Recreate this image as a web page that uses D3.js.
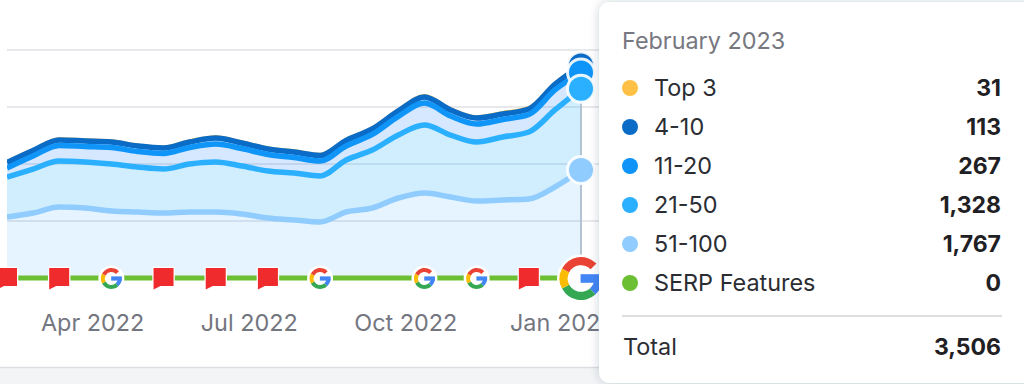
<!DOCTYPE html>
<html>
<head>
<meta charset="utf-8">
<script src="https://cdn.jsdelivr.net/npm/d3@7/dist/d3.min.js"></script>
<style>
html,body{margin:0;padding:0;background:#fff;overflow:hidden}
svg{display:block}
text{font-family:Inter,"Noto Sans",sans-serif}
</style>
</head>
<body>
<svg id="c" width="1024" height="384"></svg>
<script>
const dates = ["2022-03-01","2022-03-16","2022-04-01","2022-04-16","2022-05-01","2022-05-16","2022-06-01","2022-06-16","2022-07-01","2022-07-16","2022-08-01","2022-08-16","2022-09-01","2022-09-16","2022-10-01","2022-10-16","2022-11-01","2022-11-16","2022-12-01","2022-12-16","2023-01-01","2023-01-16","2023-02-01"];
const top3    = [22,22,24,24,24,22,22,26,26,24,24,24,24,24,26,26,28,26,26,30,30,30,31];
const pos4to10 = [90,90,90,90,90,90,90,90,98,90,90,90,90,90,90,90,98,98,98,90,90,90,113];
const pos11to20 = [147,213,254,254,270,254,254,270,294,286,270,254,245,229,254,303,360,311,294,286,286,327,267];
const pos21to50 = [654,720,753,753,769,736,720,785,818,785,769,769,753,851,949,1031,1112,1014,965,1031,1096,1260,1328];
const pos51to100 = [998,1063,1162,1145,1096,1080,1063,1080,1080,1047,982,949,916,1080,1145,1309,1391,1325,1260,1276,1292,1489,1767];
const serp = [0,0,0,0,0,0,0,0,0,0,0,0,0,0,0,0,0,0,0,0,0,0,0];
const gridValues = [0,932,1865,2797,3730];
const tickDates = ["2022-04-01","2022-07-01","2022-10-01","2023-01-01"];
const tickLabels = ["Apr 2022","Jul 2022","Oct 2022","Jan 2023"];
const eventDates = ["2022-03-01","2022-04-01","2022-05-01","2022-06-01","2022-07-01","2022-08-01","2022-09-01","2022-11-01","2022-12-01","2023-01-01","2023-02-01"];
const eventTypes = ["flag","flag","g","flag","flag","flag","g","g","g","flag","bigg"];
const seriesNames = ["Top 3","4-10","11-20","21-50","51-100","SERP Features"];
const seriesColors = ["#ffc145","#0a6cc6","#0f94f8","#2bb0ff","#91ccff","#6cbf33"];
const bandFills = ["rgba(255,193,69,0.12)","rgba(20,130,255,0.18)","rgba(20,130,255,0.18)","rgba(40,175,255,0.21)","rgba(30,155,255,0.11)"];
const tooltipTitle = "February 2023";
const totalLabel = "Total";

const svg = d3.select("#c");
const x = d3.scalePoint().domain(dates).range([7,581]);
const y = d3.scaleLinear().domain([0,3730]).range([278,50]);
const defs = svg.append("defs");
defs.append("clipPath").attr("id","plot").append("rect").attr("x",7).attr("y",0).attr("width",600).attr("height",278);
const f = defs.append("filter").attr("id","sh").attr("x","-10%").attr("y","-10%").attr("width","120%").attr("height","120%");
f.append("feDropShadow").attr("dx",0).attr("dy",0).attr("stdDeviation",5).attr("flood-color","#26334d").attr("flood-opacity",0.22);

svg.append("rect").attr("x",0).attr("y",367).attr("width",1024).attr("height",17).attr("fill","#f3f4f6");
svg.append("line").attr("x1",0).attr("x2",1024).attr("y1",367.5).attr("y2",367.5).attr("stroke","#dcdde1").attr("stroke-width",1.5);

svg.append("g").selectAll("line").data(gridValues.slice(1)).join("line")
  .attr("x1",7).attr("x2",600).attr("y1",d=>y(d)).attr("y2",d=>y(d))
  .attr("stroke","#e7e8ec").attr("stroke-width",2);

const stackOrder = [pos51to100,pos21to50,pos11to20,pos4to10,top3];
const table = dates.map((d,i)=>({date:d,s0:stackOrder[0][i],s1:stackOrder[1][i],s2:stackOrder[2][i],s3:stackOrder[3][i],s4:stackOrder[4][i]}));
const stacked = d3.stack().keys(["s0","s1","s2","s3","s4"])(table);
const curve = d3.curveMonotoneX;
const area = d3.area().x(d=>x(d.data.date)).y0(d=>y(d[0])).y1(d=>y(d[1])).curve(curve);
const line = d3.line().x(d=>x(d.data.date)).y(d=>y(d[1])).curve(curve);

const plot = svg.append("g").attr("clip-path","url(#plot)");
const bandColor = [bandFills[4],bandFills[3],bandFills[2],bandFills[1],bandFills[0]];
plot.selectAll(".band").data(stacked).join("path").attr("class","band")
  .attr("d",area).attr("fill",(d,i)=>bandColor[i]);

svg.append("line").attr("x1",x(dates[22])).attr("x2",x(dates[22])).attr("y1",y(3095)).attr("y2",272)
  .attr("stroke","#b4c3d2").attr("stroke-width",2);

const lineColor = [seriesColors[4],seriesColors[3],seriesColors[2],seriesColors[1],seriesColors[0]];
const lineWidth = [5.5,5.5,5.5,5.5,2.5];
[4,3,2,1,0].forEach(i=>{
  plot.append("path").datum(stacked[i]).attr("d",line).attr("fill","none")
    .attr("stroke",lineColor[i]).attr("stroke-width",lineWidth[i]);
});

[3,2,1,0].forEach(i=>{
  const p = stacked[i][22];
  svg.append("circle").attr("cx",x(p.data.date)).attr("cy",y(p[1])).attr("r",13.5)
    .attr("fill",lineColor[i]).attr("stroke","#fff").attr("stroke-opacity",0.9).attr("stroke-width",3);
});

svg.append("path").datum(serp).attr("fill","none").attr("stroke",seriesColors[5]).attr("stroke-width",5)
  .attr("d",d3.line().x((d,i)=>x(dates[i])).y(d=>y(d)));

function drawG(g,R){
  g.append("circle").attr("r",R+2.5).attr("fill","#fff");
  const inner=R*0.62;
  const a=d3.arc().innerRadius(inner).outerRadius(R);
  const seg=(s,e,c)=>g.append("path").attr("d",a({startAngle:s*Math.PI/180,endAngle:e*Math.PI/180})).attr("fill",c);
  seg(92,138,"#4285f4");
  seg(138,242,"#34a853");
  seg(242,298,"#fbbc05");
  seg(298,406,"#ea4335");
  g.append("rect").attr("x",-0.02*R).attr("y",-0.2*R).attr("width",R*1.02).attr("height",R*0.4).attr("fill","#4285f4");
}
function drawFlag(g){
  const s=d3.path();
  s.moveTo(-10,-10.5);s.lineTo(10,-10.5);s.lineTo(10,7.5);s.lineTo(-3,7.5);s.lineTo(-10,11);s.closePath();
  g.append("path").attr("d",s.toString()).attr("fill","#ef2b2d").attr("stroke","#fff").attr("stroke-width",2.5).attr("paint-order","stroke").attr("stroke-linejoin","round");
}
eventDates.forEach((d,i)=>{
  const g=svg.append("g").attr("transform",`translate(${x(d)},${y(0)+0.5})`);
  if(eventTypes[i]==="flag") drawFlag(g);
  else if(eventTypes[i]==="g") drawG(g,10.5);
  else drawG(g,21.5);
});

const axis = d3.axisBottom(x).tickValues(tickDates).tickSize(0).tickPadding(0)
  .tickFormat(d=>tickLabels[tickDates.indexOf(d)]);
const ax = svg.append("g").attr("transform","translate(33,314)").call(axis);
ax.select(".domain").remove();
ax.selectAll("text").attr("font-size",23.4).attr("fill","#74767f").attr("dy",0).attr("y",17)
  .style("font-family","Inter,'Noto Sans',sans-serif");

const tip = svg.append("g");
tip.append("rect").attr("x",599).attr("y",2).attr("width",470).attr("height",381).attr("rx",11)
  .attr("fill","#fff").attr("filter","url(#sh)");
tip.append("text").attr("x",622).attr("y",49).attr("font-size",23.4).attr("fill","#77787f").text(tooltipTitle);
const last = [top3,pos4to10,pos11to20,pos21to50,pos51to100,serp].map(a=>a[a.length-1]);
const fmt = d3.format(",");
const rowY = d3.scalePoint().domain(seriesNames).range([88,283]);
seriesNames.forEach((n,i)=>{
  const yy=rowY(n);
  tip.append("circle").attr("cx",630).attr("cy",yy).attr("r",8).attr("fill",seriesColors[i]);
  tip.append("text").attr("x",654).attr("y",yy+8).attr("font-size",23.4).attr("fill","#2b2d33").text(n);
  tip.append("text").attr("x",1001).attr("y",yy+8).attr("text-anchor","end").attr("font-size",23).attr("font-weight",700).attr("fill","#1f2024").text(fmt(last[i]));
});
tip.append("line").attr("x1",622).attr("x2",1002).attr("y1",316).attr("y2",316).attr("stroke","#d2d3d6").attr("stroke-width",1.5);
tip.append("text").attr("x",623).attr("y",355).attr("font-size",23.4).attr("fill","#2b2d33").text(totalLabel);
tip.append("text").attr("x",1001).attr("y",355).attr("text-anchor","end").attr("font-size",23).attr("font-weight",700).attr("fill","#1f2024").text(fmt(d3.sum(last)));
</script>
</body>
</html>
